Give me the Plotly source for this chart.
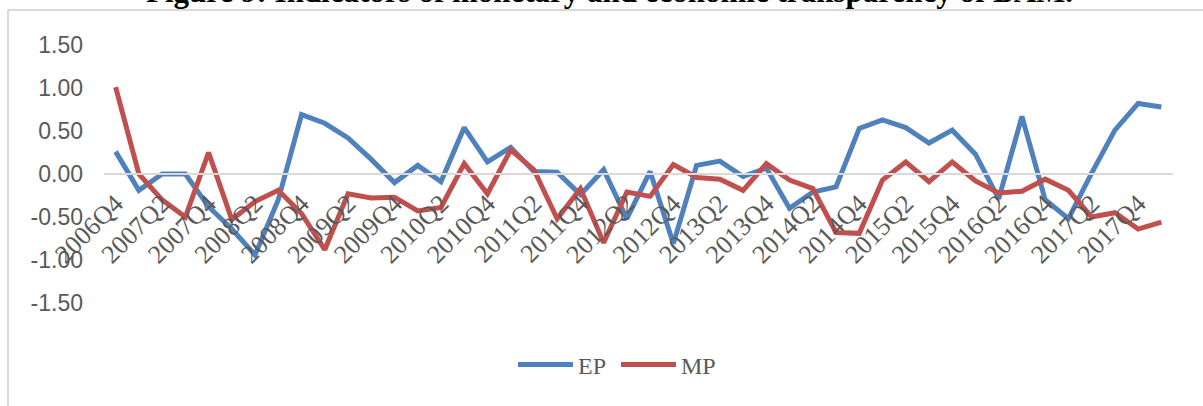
import plotly.graph_objects as go

quarters = ["2006Q4",
            "2007Q1", "2007Q2", "2007Q3", "2007Q4",
            "2008Q1", "2008Q2", "2008Q3", "2008Q4",
            "2009Q1", "2009Q2", "2009Q3", "2009Q4",
            "2010Q1", "2010Q2", "2010Q3", "2010Q4",
            "2011Q1", "2011Q2", "2011Q3", "2011Q4",
            "2012Q1", "2012Q2", "2012Q3", "2012Q4",
            "2013Q1", "2013Q2", "2013Q3", "2013Q4",
            "2014Q1", "2014Q2", "2014Q3", "2014Q4",
            "2015Q1", "2015Q2", "2015Q3", "2015Q4",
            "2016Q1", "2016Q2", "2016Q3", "2016Q4",
            "2017Q1", "2017Q2", "2017Q3", "2017Q4",
            "2018Q1"]

ep = [0.26,
      -0.19, 0.00, 0.00, -0.38,
      -0.64, -0.94, -0.30, 0.69,
      0.59, 0.42, 0.17, -0.10,
      0.10, -0.09, 0.54, 0.14,
      0.31, 0.03, 0.02, -0.24,
      0.05, -0.52, 0.03, -0.81,
      0.10, 0.15, -0.03, 0.07,
      -0.40, -0.21, -0.15, 0.53,
      0.63, 0.54, 0.36, 0.51,
      0.23, -0.29, 0.67, -0.30,
      -0.52, 0.01, 0.51, 0.82,
      0.78]

mp = [1.01,
      0.00, -0.30, -0.50, 0.25,
      -0.53, -0.32, -0.19, -0.46,
      -0.88, -0.23, -0.28, -0.27,
      -0.43, -0.39, 0.12, -0.23,
      0.28, 0.05, -0.52, -0.17,
      -0.80, -0.21, -0.26, 0.11,
      -0.04, -0.06, -0.19, 0.12,
      -0.07, -0.17, -0.68, -0.69,
      -0.07, 0.14, -0.09, 0.14,
      -0.08, -0.22, -0.20, -0.06,
      -0.19, -0.50, -0.45, -0.64,
      -0.56]

tick_labels = quarters[::2]
y_ticks = [-1.5, -1.0, -0.5, 0.0, 0.5, 1.0, 1.5]
y_tick_text = ["-1.50", "-1.00", "-0.50", "0.00", "0.50", "1.00", "1.50"]
title_text = "Figure 9: Indicators of monetary and economic transparency of BAM."

W, H = 1203, 406
L, R, T, B = 104, 30, 45, 103
pw, ph = W - L - R, H - T - B


def px_x(p):
    return (p - L) / pw


def px_y(p):
    return (H - B - p) / ph


fig = go.Figure()
fig.add_trace(go.Scatter(x=quarters, y=ep, mode="lines", name="EP",
                         line=dict(color="#4f81bd", width=5)))
fig.add_trace(go.Scatter(x=quarters, y=mp, mode="lines", name="MP",
                         line=dict(color="#c0504d", width=5)))

fig.update_layout(
    width=W, height=H,
    margin=dict(l=L, r=R, t=T, b=B),
    paper_bgcolor="white", plot_bgcolor="white",
    showlegend=True,
    legend=dict(orientation="h", x=px_x(616), xanchor="center", y=px_y(365), yanchor="middle",
                font=dict(family="Liberation Serif", size=24, color="#595959"),
                itemwidth=55, entrywidth=33, entrywidthmode="pixels",
                bgcolor="rgba(0,0,0,0)"),
    xaxis=dict(type="category", categoryorder="array", categoryarray=quarters,
               range=[-0.5, len(quarters) - 0.5],
               anchor="free", position=0.5, automargin=False,
               showline=True, linecolor="#d9d9d9", linewidth=2,
               showgrid=False, zeroline=False, ticks="",
               tickmode="array", tickvals=tick_labels, ticktext=tick_labels,
               tickangle=-45, ticklabelstandoff=3,
               tickfont=dict(family="Liberation Serif", size=26, color="#595959")),
    yaxis=dict(range=[-1.5, 1.5], tickmode="array", tickvals=y_ticks, ticktext=y_tick_text,
               showgrid=False, zeroline=False, showline=False, automargin=False,
               ticks="", ticklabelstandoff=20,
               tickfont=dict(family="Liberation Sans", size=23, color="#595959")),
)

fig.add_annotation(text="<b>" + title_text + "</b>", xref="paper", yref="paper",
                   x=px_x(609), y=1, xanchor="center", yanchor="bottom", yshift=T - 11,
                   showarrow=False,
                   font=dict(family="Liberation Serif", size=31, color="black"))

fig.add_shape(type="line", xref="paper", yref="paper",
              x0=px_x(8), x1=px_x(1215), y0=px_y(10), y1=px_y(10),
              line=dict(color="#d9d9d9", width=2))
fig.add_shape(type="line", xref="paper", yref="paper",
              x0=px_x(8), x1=px_x(8), y0=px_y(10), y1=px_y(420),
              line=dict(color="#d9d9d9", width=2))

fig.write_html("out.html", config={"displayModeBar": False},
               post_script="document.body.style.margin='0';")
